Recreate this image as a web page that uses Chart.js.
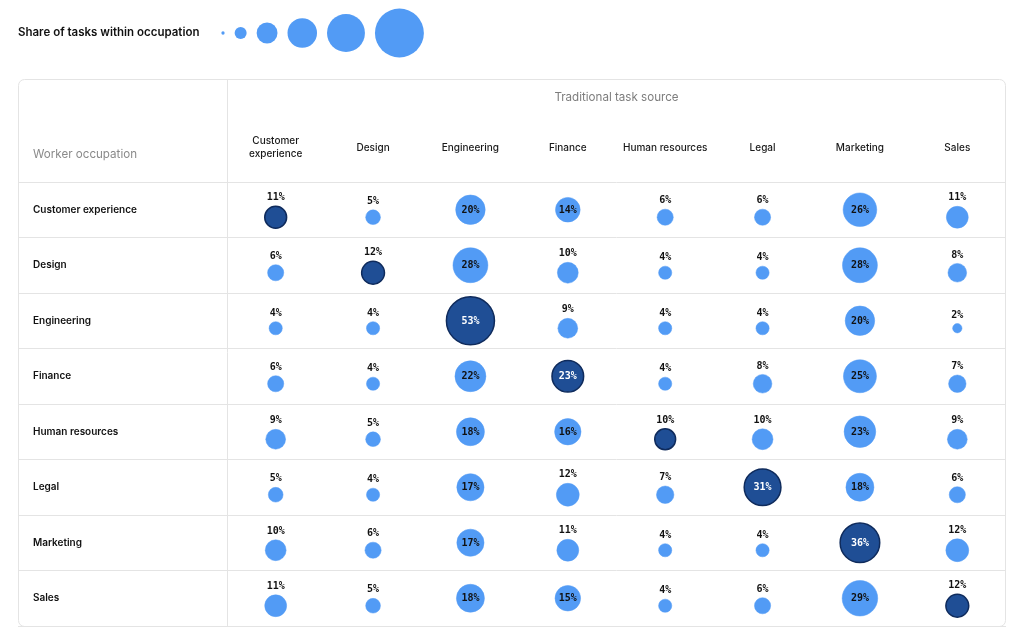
<!DOCTYPE html>
<html>
<head>
<meta charset="utf-8">
<script src="https://cdn.jsdelivr.net/npm/chart.js@4.4.0/dist/chart.umd.min.js"></script>
<style>
  body { margin: 0; background: #fff; }
</style>
</head>
<body>
<canvas id="chart" width="1024" height="643"></canvas>
<script>
// rows: worker occupation, columns: traditional task source
const occupations = ["Customer experience", "Design", "Engineering", "Finance", "Human resources", "Legal", "Marketing", "Sales"];
const taskSources = ["Customer experience", "Design", "Engineering", "Finance", "Human resources", "Legal", "Marketing", "Sales"];

const customerExperienceRow = [11, 5, 20, 14, 6, 6, 26, 11];
const designRow = [6, 12, 28, 10, 4, 4, 28, 8];
const engineeringRow = [4, 4, 53, 9, 4, 4, 20, 2];
const financeRow = [6, 4, 22, 23, 4, 8, 25, 7];
const humanResourcesRow = [9, 5, 18, 16, 10, 10, 23, 9];
const legalRow = [5, 4, 17, 12, 7, 31, 18, 6];
const marketingRow = [10, 6, 17, 11, 4, 4, 36, 12];
const salesRow = [11, 5, 18, 15, 4, 6, 29, 12];

const shares = [customerExperienceRow, designRow, engineeringRow, financeRow,
  humanResourcesRow, legalRow, marketingRow, salesRow];

// sizes shown in the legend row at the top
const legendValues = [0.25, 3.3, 10, 20, 33, 55];

const LIGHT = "#529bf5";
const DARK = "#1f4e95";
const DARK_EDGE = "#0f2b5c";
const LINE = "#e4e4e4";
const insideMin = 13;   // labels go inside bubbles from this share up
const sizeK = 3.3;

function radiusFor(v) {
    return sizeK * Math.sqrt(v);
}

const points = [];
shares.forEach((row, i) => {
    row.forEach((v, j) => {
        points.push({
            x: taskSources[j],
            // small bubbles sit a bit lower so the label fits above
            y: i + (v < insideMin ? 0.135 : 0),
            r: radiusFor(v),
            v: v,
            diag: i === j
        });
    });
});

const tableFrame = {
    id: "tableFrame",
    beforeDraw(chart) {
        const ctx = chart.ctx;
        const a = chart.chartArea;
        const top = chart.scales.x.top;
        ctx.save();
        ctx.fillStyle = "#fff";
        ctx.fillRect(0, 0, chart.width, chart.height);

        // outer box
        ctx.strokeStyle = LINE;
        ctx.lineWidth = 1;
        ctx.beginPath();
        ctx.roundRect(18.5, top + 0.5, a.right - 19, a.bottom - top, 6);
        ctx.stroke();

        // divider between row labels and bubbles
        ctx.beginPath();
        ctx.moveTo(a.left + 0.5, top);
        ctx.lineTo(a.left + 0.5, a.bottom);
        ctx.stroke();

        ctx.fillStyle = "#8a8a8a";
        ctx.font = "11.6px Inter";
        ctx.textAlign = "left";
        ctx.textBaseline = "middle";
        ctx.fillText("Worker occupation", 33, 155);

        // size legend
        ctx.fillStyle = "#111";
        ctx.font = "600 11.5px Inter";
        ctx.fillText("Share of tasks within occupation", 18, 33);
        ctx.fillStyle = LIGHT;
        let x = 223;
        legendValues.forEach((v, k) => {
            const r = radiusFor(v);
            if (k > 0) x += r + 10;
            ctx.beginPath();
            ctx.arc(x, 33, r, 0, Math.PI * 2);
            ctx.fill();
            x += r;
        });
        ctx.restore();
    }
};

const valueLabels = {
    id: "valueLabels",
    afterDatasetsDraw(chart) {
        const ctx = chart.ctx;
        const meta = chart.getDatasetMeta(0);
        const data = chart.data.datasets[0].data;
        ctx.save();
        ctx.font = "bold 10px 'DejaVu Sans Mono'";
        ctx.textAlign = "center";
        ctx.textBaseline = "middle";
        meta.data.forEach((el, i) => {
            const d = data[i];
            const txt = d.v + "%";
            if (d.v >= insideMin) {
                ctx.fillStyle = d.diag ? "#fff" : "#111";
                ctx.fillText(txt, el.x, el.y + 0.5);
            } else {
                ctx.fillStyle = "#111";
                ctx.fillText(txt, el.x, el.y - d.r - 8.5);
            }
        });
        ctx.restore();
    }
};

new Chart(document.getElementById("chart"), {
    type: "bubble",
    data: {
        datasets: [{
            data: points,
            xAxisID: "x",
            yAxisID: "yv",
            backgroundColor: (c) => c.raw && c.raw.diag ? DARK : LIGHT,
            borderColor: (c) => c.raw && c.raw.diag ? DARK_EDGE : LIGHT,
            borderWidth: (c) => c.raw && c.raw.diag ? 1.5 : 0.5,
            hoverRadius: 0
        }]
    },
    options: {
        responsive: false,
        animation: false,
        events: [],
        layout: {
            autoPadding: false,
            padding: { left: 33, right: 18, top: 79, bottom: 17 }
        },
        plugins: {
            legend: { display: false },
            tooltip: { enabled: false }
        },
        scales: {
            x: {
                type: "category",
                labels: taskSources,
                position: "top",
                offset: true,
                grid: { display: false },
                border: { display: false },
                afterFit: (s) => {
                    s.height = 103;
                    s.paddingLeft = 0;
                    s.paddingRight = 0;
                },
                title: {
                    display: true,
                    text: "Traditional task source",
                    color: "#7d7d7d",
                    font: { family: "Inter", size: 11.6 },
                    padding: { top: 12, bottom: 0 }
                },
                ticks: {
                    color: "#1a1a1a",
                    font: { family: "Inter", size: 10, weight: "500", lineHeight: 1.3 },
                    crossAlign: "center",
                    maxRotation: 0,
                    autoSkip: false,
                    padding: 20,
                    callback: (v) => {
                        const s = taskSources[v];
                        return s.length > 16 ? s.split(" ") : s;
                    }
                }
            },
            y: {
                type: "category",
                labels: occupations,
                offset: true,
                afterFit: (s) => {
                    s.width = 194;
                    s.paddingTop = 0;
                    s.paddingBottom = 0;
                },
                grid: {
                    offset: true,
                    color: LINE,
                    drawTicks: true,
                    tickLength: 209
                },
                border: { display: false },
                ticks: {
                    color: "#111",
                    font: { family: "Inter", size: 10, weight: "600" },
                    crossAlign: "far",
                    autoSkip: false
                }
            },
            yv: {
                type: "linear",
                display: false,
                reverse: true,
                min: -0.5,
                max: 7.5
            }
        }
    },
    plugins: [tableFrame, valueLabels]
});
</script>
</body>
</html>
